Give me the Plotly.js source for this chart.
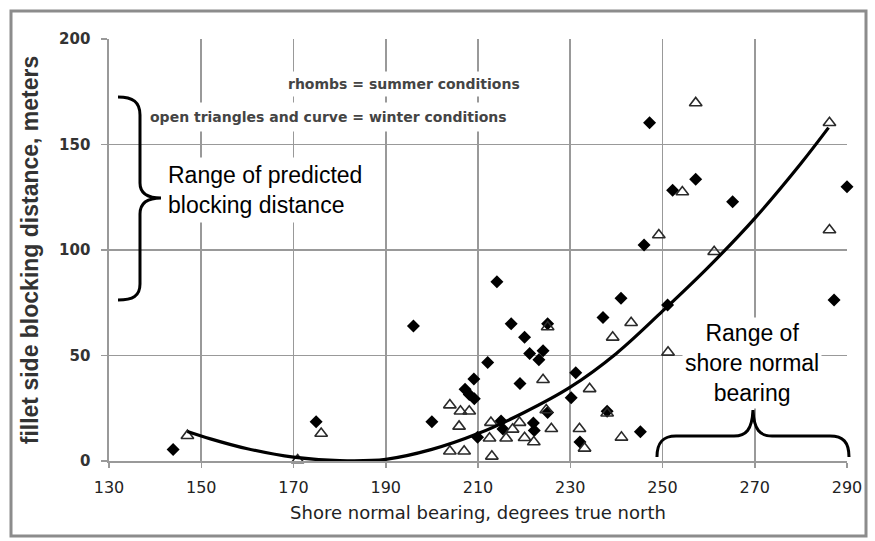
<!DOCTYPE html>
<html>
<head>
<meta charset="utf-8">
<script src="https://cdn.plot.ly/plotly-3.0.1.min.js"></script>
<style>html,body{margin:0;padding:0;background:#fff;}#chart{width:875px;height:541px;}</style>
</head>
<body>
<div id="chart"></div>
<script>
// Summer (rhombs)
const summerBearing = [143.9,174.9,196.0,200.0,207.2,208.1,209.2,209.1,212.1,209.9,214.1,215.0,215.4,217.2,219.1,220.1,221.2,224.1,223.2,222.0,222.2,225.1,225.1,230.2,231.2,232.1,237.1,238.0,241.0,245.2,246.0,247.2,251.1,252.2,257.2,265.2,287.2,290.0];
const summerDist    = [5.5,18.6,64.0,18.6,34.0,31.5,29.5,38.9,46.7,11.2,85.0,19.0,15.2,65.0,36.7,58.7,51.0,52.3,48.0,18.0,14.5,65.0,23.0,30.0,41.8,9.0,68.0,23.6,77.1,13.9,102.4,160.3,73.9,128.3,133.5,122.9,76.3,130.0];
// Winter (open triangles)
const winterBearing = [147.0,170.9,176.0,203.9,206.2,208.1,205.9,203.9,207.0,213.0,212.8,212.5,216.1,219.0,220.1,222.1,217.5,225.9,224.8,224.1,225.1,232.0,233.1,234.2,238.0,239.2,241.1,243.2,249.2,251.2,254.3,257.2,261.2,286.2,286.2];
const winterDist    = [12.0,0.5,13.0,26.5,23.6,23.6,16.4,4.6,4.6,2.2,18.2,10.8,10.8,18.2,11.0,9.0,15.0,15.3,24.2,38.5,63.5,15.3,6.0,34.2,22.6,58.6,11.2,65.5,107.1,51.5,127.5,169.7,99.2,160.3,109.5];
// Winter curve
const curveBearing = [147,152,160,170,180,190,200,210,220,230,240,250,260,270,280,286];
const curveDist    = [14,10.5,5.8,1.8,0.2,0.8,5.5,13,23,35,51,71,92,115,141,158];
// Axes
const xTickVals = [130,150,170,190,210,230,250,270,290];
const yTickVals = [0,50,100,150,200];

// pixel -> paper helpers for decorative shapes (plot area 109..847 x, 461..39 y)
const PX0 = 109, PX1 = 847, PY0 = 461, PY1 = 39;
function P(px, py) {
  return ((px - PX0) / (PX1 - PX0)).toFixed(4) + ',' + ((PY0 - py) / (PY0 - PY1)).toFixed(4);
}
const leftBrace = 'M' + P(118,97) + ' C' + P(133,97) + ' ' + P(140,102) + ' ' + P(140,115) +
  ' L' + P(140,183) + ' C' + P(140,194) + ' ' + P(148,198) + ' ' + P(161,198) +
  ' C' + P(148,198) + ' ' + P(140,203) + ' ' + P(140,214) +
  ' L' + P(140,284) + ' C' + P(140,296) + ' ' + P(133,300) + ' ' + P(118,300);
const bottomBrace = 'M' + P(657,457) + ' C' + P(657,442) + ' ' + P(663,436) + ' ' + P(676,436) +
  ' L' + P(734,436) + ' C' + P(746,436) + ' ' + P(752,430) + ' ' + P(753,410) +
  ' C' + P(754,430) + ' ' + P(760,436) + ' ' + P(772,436) +
  ' L' + P(830,436) + ' C' + P(843,436) + ' ' + P(849,442) + ' ' + P(849,457);

const gridCol = '#999999';
const traces = [
  {x: summerBearing, y: summerDist, type: 'scatter', mode: 'markers', cliponaxis: false,
   marker: {symbol: 'diamond', size: 10, color: '#000'}, hoverinfo: 'x+y'},
  {x: winterBearing, y: winterDist, type: 'scatter', mode: 'markers', cliponaxis: false,
   marker: {symbol: 'triangle-up-open', size: 11, color: '#2a2a2a', line: {width: 1.6, color: '#2a2a2a'}}, hoverinfo: 'x+y'},
  {x: curveBearing, y: curveDist, type: 'scatter', mode: 'lines', cliponaxis: false,
   line: {color: '#000', width: 3.2, shape: 'spline', smoothing: 1}, hoverinfo: 'skip'}
];

const layout = {
  width: 875, height: 541,
  margin: {l: 109, r: 28, t: 39, b: 80},
  paper_bgcolor: '#fff', plot_bgcolor: '#fff',
  showlegend: false,
  font: {family: 'Arial, "Liberation Sans", sans-serif', color: '#222'},
  xaxis: {
    range: [130, 290], tickvals: xTickVals, ticktext: xTickVals.map(String),
    ticks: 'outside', ticklen: 5, tickwidth: 1.5, tickcolor: gridCol,
    showline: true, linecolor: gridCol, linewidth: 1.6,
    showgrid: true, gridcolor: gridCol, gridwidth: 1.6, zeroline: false,
    tickfont: {family: '"DejaVu Sans", sans-serif', size: 16, color: '#222'},
    ticklabelstandoff: 6,
    title: {text: 'Shore normal bearing, degrees true north', standoff: 10,
            font: {family: '"DejaVu Sans", sans-serif', size: 18, color: '#222'}}
  },
  yaxis: {
    range: [0, 200], tickvals: yTickVals, ticktext: yTickVals.map(String),
    ticks: 'outside', ticklen: 6, tickwidth: 1.5, tickcolor: gridCol,
    showline: true, linecolor: gridCol, linewidth: 1.6,
    showgrid: true, gridcolor: gridCol, gridwidth: 1.6, zeroline: false,
    tickfont: {family: '"DejaVu Sans", sans-serif', size: 15, color: '#333', weight: 'bold'},
    ticklabelstandoff: 8,
    title: {text: '<b>fillet side blocking distance, meters</b>', standoff: 14,
            font: {family: 'Arial, "Liberation Sans", sans-serif', size: 23, color: '#333'}}
  },
  annotations: [
    {xref: 'paper', yref: 'paper', x: (404 - PX0) / (PX1 - PX0), y: (PY0 - 84) / (PY0 - PY1),
     text: '<b>rhombs = summer conditions</b>', showarrow: false, xanchor: 'center', yanchor: 'middle',
     font: {family: '"DejaVu Sans", sans-serif', size: 14, color: '#444'}, bgcolor: '#fff', borderpad: 4},
    {xref: 'paper', yref: 'paper', x: (328 - PX0) / (PX1 - PX0), y: (PY0 - 117) / (PY0 - PY1),
     text: '<b>open triangles and curve = winter conditions</b>', showarrow: false, xanchor: 'center', yanchor: 'middle',
     font: {family: '"DejaVu Sans", sans-serif', size: 14, color: '#444'}, bgcolor: '#fff', borderpad: 6},
    {xref: 'paper', yref: 'paper', x: (163 - PX0) / (PX1 - PX0), y: (PY0 - 190) / (PY0 - PY1),
     text: 'Range of predicted<br>blocking distance', showarrow: false, xanchor: 'left', yanchor: 'middle', align: 'left',
     font: {family: 'Arial, "Liberation Sans", sans-serif', size: 23, color: '#000'}, bgcolor: '#fff', borderpad: 4},
    {xref: 'paper', yref: 'paper', x: (752 - PX0) / (PX1 - PX0), y: (PY0 - 363) / (PY0 - PY1),
     text: 'Range of<br>shore normal<br>bearing', showarrow: false, xanchor: 'center', yanchor: 'middle', align: 'center',
     font: {family: 'Arial, "Liberation Sans", sans-serif', size: 23, color: '#000'}, bgcolor: '#fff', borderpad: 2}
  ],
  shapes: [
    {type: 'path', xref: 'paper', yref: 'paper', path: leftBrace, line: {color: '#000', width: 3}, layer: 'above'},
    {type: 'path', xref: 'paper', yref: 'paper', path: bottomBrace, line: {color: '#000', width: 3}, layer: 'above'},
    {type: 'rect', xref: 'paper', yref: 'paper',
     x0: (11 - PX0) / (PX1 - PX0), x1: (866 - PX0) / (PX1 - PX0),
     y0: (PY0 - 536) / (PY0 - PY1), y1: (PY0 - 11) / (PY0 - PY1),
     line: {color: '#8c8c8c', width: 3}, layer: 'below'}
  ]
};

Plotly.newPlot('chart', traces, layout, {staticPlot: true, displayModeBar: false});
</script>
</body>
</html>
